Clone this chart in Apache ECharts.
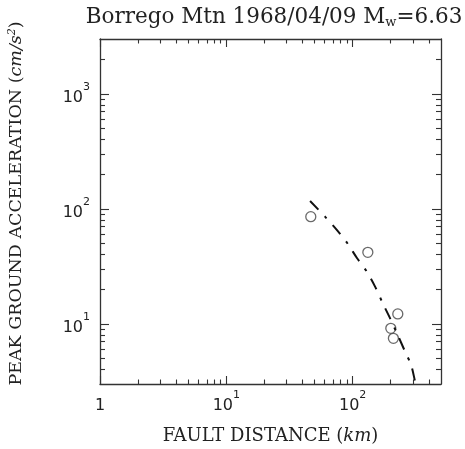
<!DOCTYPE html>
<html>
<head>
<meta charset="utf-8">
<script src="https://cdn.jsdelivr.net/npm/echarts@6/dist/echarts.min.js"></script>
<style>html,body{margin:0;padding:0;background:#fff}#c{width:465px;height:449px}</style>
</head>
<body>
<div id="c"></div>
<script>
// ---- data ----
const xRange = [1, 500];
const yRange = [3, 3000];
const xMajorTicks = [1, 10, 100];
const xMinorTicks = [2,3,4,5,6,7,8,9,20,30,40,50,60,70,80,90,200,300,400];
const yMajorTicks = [10, 100, 1000];
const yMinorTicks = [4,5,6,7,8,9,20,30,40,50,60,70,80,90,200,300,400,500,600,700,800,900,2000];
const obsDist = [46.6, 131.8, 227.5, 200.3, 210];
const obsPGA  = [85.5, 41.9, 12.2, 9.15, 7.49];
const curveDist = [46, 60.4, 75.7, 90.8, 108.4, 129.4, 150.4, 173, 195.3, 225, 260, 290, 312, 318];
const curvePGA  = [117, 85.5, 64.6, 50.2, 37.2, 28.4, 21.1, 15.1, 11.5, 8.2, 5.73, 4.39, 3.14, 2.9];

const L = Math.log10;
const AX = '#333';
const serif = 'DejaVu Serif';
const sans = 'DejaVu Sans';

function powLabel(v) {
  const e = Math.round(v);
  if (e === 0) return '{b|1}';
  return '{b|10}{s|' + e + '}';
}
const labelRich = {
  b: {fontFamily: sans, fontSize: 16, color: '#222', lineHeight: 24, verticalAlign: 'bottom'},
  s: {fontFamily: sans, fontSize: 11, color: '#222', lineHeight: 8, verticalAlign: 'top'}
};

function decoAxis(pos, range, ticks, len, opts) {
  const base = {
    type: 'value', position: pos, gridIndex: 0,
    min: L(range[0]), max: L(range[1]),
    axisLine: {show: !!opts.line, onZero: false, lineStyle: {color: AX, width: 1.3}},
    axisTick: {show: true, inside: true, length: len, customValues: ticks.map(L), lineStyle: {color: AX, width: 1.1}},
    axisLabel: {show: false},
    splitLine: {show: false},
    silent: true
  };
  if (opts.labels) {
    base.axisLabel = {show: true, customValues: opts.labels.map(L), formatter: powLabel, rich: labelRich, margin: opts.margin};
  }
  if (opts.extra) Object.assign(base, opts.extra);
  return base;
}

const chart = echarts.init(document.getElementById('c'), null, {renderer: 'canvas'});
chart.setOption({
  animation: false,
  backgroundColor: '#fff',
  title: {
    text: 'Borrego Mtn 1968/04/09 M{sub|w}=6.63',
    left: 269, top: 0, textAlign: 'center',
    textStyle: {
      fontFamily: serif, fontSize: 21.5, fontWeight: 'normal', color: '#222', lineHeight: 24,
      rich: {sub: {fontFamily: serif, fontSize: 13, color: '#222', lineHeight: 8, verticalAlign: 'bottom'}}
    }
  },
  grid: {left: 100, right: 24, top: 39, bottom: 65, containLabel: false, outerBoundsMode: 'none'},
  xAxis: [
    {type: 'log', logBase: 10, min: xRange[0], max: xRange[1], show: false, gridIndex: 0},
    decoAxis('bottom', xRange, xMajorTicks, 8, {line: true, labels: xMajorTicks, margin: 6, extra: {
      name: 'FAULT DISTANCE ({i|km})', nameLocation: 'middle', nameGap: 43,
      nameTextStyle: {fontFamily: serif, fontSize: 18, color: '#222',
        rich: {i: {fontFamily: serif, fontStyle: 'italic', fontSize: 18, color: '#222'}}}
    }}),
    decoAxis('bottom', xRange, xMinorTicks, 4.5, {}),
    decoAxis('top', xRange, xMajorTicks, 8, {line: true}),
    decoAxis('top', xRange, xMinorTicks, 4.5, {})
  ],
  yAxis: [
    {type: 'log', logBase: 10, min: yRange[0], max: yRange[1], show: false, gridIndex: 0},
    decoAxis('left', yRange, yMajorTicks, 9, {line: true, labels: yMajorTicks, margin: 10, extra: {
      name: 'PEAK GROUND ACCELERATION ({i|cm/s}{sup|2}{t|)}', nameLocation: 'middle', nameGap: 75, nameRotate: 90,
      nameTextStyle: {fontFamily: serif, fontSize: 17.5, color: '#222', padding: [0, 0, 0, 16],
        rich: {
          i: {fontFamily: serif, fontStyle: 'italic', fontSize: 17.5, color: '#222'},
          sup: {fontFamily: serif, fontStyle: 'italic', fontSize: 11, color: '#222', lineHeight: 8, verticalAlign: 'top'},
          t: {fontFamily: serif, fontSize: 17.5, color: '#222'}
        }}
    }}),
    decoAxis('left', yRange, yMinorTicks, 5, {}),
    decoAxis('right', yRange, yMajorTicks, 9, {line: true}),
    decoAxis('right', yRange, yMinorTicks, 5, {})
  ],
  series: [
    {
      type: 'line', xAxisIndex: 0, yAxisIndex: 0,
      data: curveDist.map((d, i) => [d, curvePGA[i]]),
      smooth: 0.3, showSymbol: false, clip: true,
      lineStyle: {color: '#111', width: 2, type: [12, 9, 3, 9]}
    },
    {
      type: 'scatter', xAxisIndex: 0, yAxisIndex: 0,
      data: obsDist.map((d, i) => [d, obsPGA[i]]),
      symbol: 'circle', symbolSize: 10,
      itemStyle: {color: 'rgba(255,255,255,0)', borderColor: '#444', borderWidth: 1.3}
    }
  ]
});
</script>
</body>
</html>
